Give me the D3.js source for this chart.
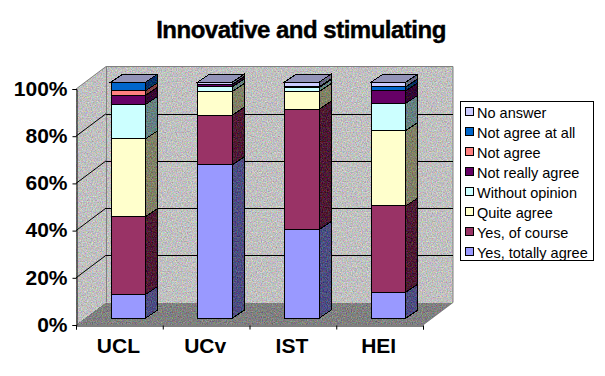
<!DOCTYPE html>
<html>
<head>
<meta charset="utf-8">
<script src="https://cdn.jsdelivr.net/npm/d3@7"></script>
<style>
  html, body { margin: 0; padding: 0; background: #fff; }
  text { font-family: "Liberation Sans", Arial, sans-serif; fill: #000; }
  svg { display: block; }
</style>
</head>
<body>
<svg id="chart" width="605" height="376"></svg>
<script>
var categories = ["UCL", "UCv", "IST", "HEI"];
var yTickLabels = ["0%", "20%", "40%", "60%", "80%", "100%"];
var seriesNames = ["Yes, totally agree", "Yes, of course", "Quite agree", "Without opinion",
                   "Not really agree", "Not agree", "Not agree at all", "No answer"];
var seriesColors = ["#9999ff", "#993366", "#ffffcc", "#ccffff",
                    "#660066", "#ff8080", "#0066cc", "#ccccff"];

// percent of answers, one array per series, in UCL, UCv, IST, HEI order
var yesTotally = [10, 65, 37.5, 11];
var yesOfCourse = [33, 21, 51, 36.5];
var quiteAgree = [33, 10, 7.5, 32];
var withoutOpinion = [14.5, 2, 1.7, 11.5];
var notReally = [3.9, 1, 0.3, 5.3];
var notAgree = [1.9, 0, 0, 0];
var notAgreeAtAll = [3.7, 0, 0, 1.7];
var noAnswer = [0, 1, 2, 2];

var allSeries = [yesTotally, yesOfCourse, quiteAgree, withoutOpinion,
                 notReally, notAgree, notAgreeAtAll, noAnswer];

var svg = d3.select("#chart");

var left = 76, right = 423, bottom = 325, top100 = 89;
var wallDx = 30, wallDy = -22.5;
var barDx = 9, barDy = -7, sideDx = 12, sideDy = -8;

var y = d3.scaleLinear().domain([0, 100]).range([bottom, top100]);
var x = d3.scaleBand().domain(categories).range([left, right]).paddingInner(0.6).paddingOuter(0.3);
var xTicks = d3.scaleBand().domain(categories).range([left - 1, right - 1]);
var xEdges = d3.scaleLinear().domain([0, categories.length]).range([left, right]);

var defs = svg.append("defs");
var noise = defs.append("filter").attr("id", "dither")
    .attr("x", 0).attr("y", 0).attr("width", 1).attr("height", 1)
    .attr("color-interpolation-filters", "sRGB");
noise.append("feTurbulence").attr("type", "fractalNoise")
    .attr("baseFrequency", 0.8).attr("numOctaves", 2).attr("seed", 4).attr("result", "n");
noise.append("feColorMatrix").attr("in", "n")
    .attr("values", "1 0 0 0 0  0 1 0 0 0  0 0 1 0 0  0 0 0 0 1").attr("result", "opaque");
noise.append("feComposite").attr("in", "SourceGraphic").attr("in2", "opaque")
    .attr("operator", "arithmetic")
    .attr("k1", 0).attr("k2", 1).attr("k3", 0.55).attr("k4", -0.275).attr("result", "mixed");
noise.append("feComposite").attr("in", "mixed").attr("in2", "SourceAlpha").attr("operator", "in");

function poly(g, pts, fill, stroke) {
  return g.append("polygon")
    .attr("points", pts.map(function(p) { return p.join(","); }).join(" "))
    .attr("fill", fill)
    .attr("stroke", stroke || "none")
    .attr("shape-rendering", "crispEdges");
}

function shade(hex, k) {
  var c = d3.rgb(hex);
  return d3.rgb(c.r * k, c.g * k, c.b * k).formatHex();
}

// walls and floor
var walls = svg.append("g");
poly(walls, [[left, bottom], [left + wallDx, bottom + wallDy], [left + wallDx, top100 + wallDy], [left, top100]], "#c0c0c0")
  .attr("filter", "url(#dither)");
poly(walls, [[left + wallDx, bottom + wallDy], [right + wallDx, bottom + wallDy], [right + wallDx, top100 + wallDy], [left + wallDx, top100 + wallDy]], "#c0c0c0")
  .attr("filter", "url(#dither)");
poly(walls, [[left, bottom], [right, bottom], [right + wallDx, bottom + wallDy], [left + wallDx, bottom + wallDy]], "#808080")
  .attr("filter", "url(#dither)");
walls.append("path")
  .attr("d", "M" + left + "," + y(100) + "L" + (left + wallDx) + "," + (y(100) + wallDy) + "H" + (right + wallDx) + "V" + (bottom + wallDy) + "L" + right + "," + bottom)
  .attr("fill", "none").attr("stroke", "#808080");
walls.append("line")
  .attr("x1", left + wallDx + 0.5).attr("x2", left + wallDx + 0.5)
  .attr("y1", y(100) + wallDy).attr("y2", bottom + wallDy)
  .attr("stroke", "#808080");

// gridlines on both walls
var gridValues = d3.range(20, 100, 20);
walls.selectAll(".grid-side").data(gridValues).enter().append("line")
  .attr("class", "grid-side")
  .attr("x1", left).attr("y1", function(d) { return y(d); })
  .attr("x2", left + wallDx).attr("y2", function(d) { return y(d) + wallDy; })
  .attr("stroke", "#000");
walls.selectAll(".grid-back").data(gridValues).enter().append("line")
  .attr("class", "grid-back")
  .attr("x1", left + wallDx).attr("x2", right + wallDx)
  .attr("y1", function(d) { return Math.round(y(d) + wallDy) + 0.5; })
  .attr("y2", function(d) { return Math.round(y(d) + wallDy) + 0.5; })
  .attr("stroke", "#000");

// bars
var stack = d3.stack()
  .keys(d3.range(allSeries.length))
  .value(function(d, k) { return allSeries[k][d]; });
var stacked = stack(d3.range(categories.length));

var bars = svg.append("g");
categories.forEach(function(cat, i) {
  var bx = x(cat) + barDx, bw = x.bandwidth();
  var g = bars.append("g").attr("class", "bar");
  stacked.forEach(function(layer, k) {
    var v0 = layer[i][0], v1 = layer[i][1];
    if (v1 <= v0) return;
    var y0 = y(v0) + barDy, y1 = y(v1) + barDy;
    var side = [[bx + bw, y0], [bx + bw + sideDx, y0 + sideDy], [bx + bw + sideDx, y1 + sideDy], [bx + bw, y1]];
    poly(g, side, shade(seriesColors[k], 0.5)).attr("filter", "url(#dither)");
    poly(g, side, "none", "#000");
    poly(g, [[bx, y0], [bx + bw, y0], [bx + bw, y1], [bx, y1]], seriesColors[k], "#000");
  });
  var yt = y(100) + barDy;
  poly(g, [[bx, yt], [bx + bw, yt], [bx + bw + sideDx, yt + sideDy], [bx + sideDx, yt + sideDy]],
       shade("#ccccff", 0.72), "#000");
});

// axes
var yAxis = d3.axisLeft(y)
  .tickValues(d3.range(0, 101, 20))
  .tickSize(4)
  .tickFormat(function(d, i) { return yTickLabels[i]; });
var yG = svg.append("g").attr("transform", "translate(" + (left + 0.5) + ",0)").call(yAxis);
yG.selectAll("text").attr("x", -9).attr("dy", "0.3em")
  .style("font-size", "21px").style("font-weight", "bold");
yG.select(".domain").attr("stroke", "#000");

var edgeAxis = d3.axisBottom(xEdges).ticks(categories.length).tickSize(4).tickFormat("");
svg.append("g").attr("transform", "translate(0," + (bottom + 0.5) + ")").call(edgeAxis);

var catAxis = d3.axisBottom(xTicks).tickSize(0);
var catG = svg.append("g").attr("transform", "translate(0," + bottom + ")").call(catAxis);
catG.select(".domain").remove();
catG.selectAll("text").attr("y", 13).attr("dy", "0.71em")
  .style("font-size", "21px").style("font-weight", "bold");

// title
svg.append("text")
  .attr("x", 301).attr("y", 38)
  .attr("text-anchor", "middle")
  .style("font-size", "24px").style("font-weight", "bold")
  .style("letter-spacing", "-0.5px")
  .style("stroke", "#000").style("stroke-width", 0.4)
  .text("Innovative and stimulating");

// legend, top entry is the last series
var legend = svg.append("g");
legend.append("rect")
  .attr("x", 460.5).attr("y", 101.5).attr("width", 133).attr("height", 159)
  .attr("fill", "#fff").attr("stroke", "#000");
var legendRows = d3.range(seriesNames.length).reverse();
var legendY = d3.scalePoint().domain(legendRows).range([112, 252]);
legendRows.forEach(function(k) {
  var cy = legendY(k);
  legend.append("rect")
    .attr("x", 465.5).attr("y", cy - 4.5).attr("width", 8).attr("height", 8)
    .attr("fill", seriesColors[k]).attr("stroke", "#000");
  legend.append("text")
    .attr("x", 477).attr("y", cy + 6)
    .style("font-size", "14.5px")
    .text(seriesNames[k]);
});
</script>
</body>
</html>
